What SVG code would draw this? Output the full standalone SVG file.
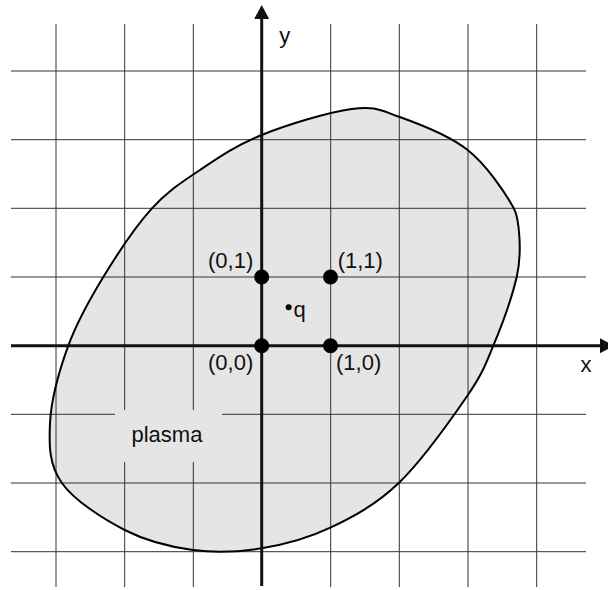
<svg xmlns="http://www.w3.org/2000/svg" width="608" height="590" viewBox="0 0 608 590">
<style>
.grid{stroke:#333;stroke-width:1;fill:none}
.axis{stroke:#111;stroke-width:3;fill:none}
.lbl{font-family:"Liberation Sans",Arial,sans-serif;font-size:22px;fill:#111}
.pt{fill:#000}
</style>
<defs>
<marker id="arr" markerWidth="14" markerHeight="15" refX="0" refY="7.5" orient="auto" markerUnits="userSpaceOnUse">
<path d="M0,0 L14,7.5 L0,15 Z" fill="#111"/>
</marker>
<path id="plasmaShape" d="M351.7,109 C374.58,105.95 379.67,109.87 399,116.7 C418.33,123.53 448.53,134.67 467.7,150 C486.87,165.33 505.28,192.58 514,208.7 C519,218 522.5,252 516.7,277 C512.5,295 501.63,325.75 493.3,345.7 C484.97,365.65 482.42,373.87 466.7,396.7 C450.98,419.53 421.73,460.87 399,482.7 C376.27,504.53 353.18,516.77 330.3,527.7 C307.42,538.63 284.58,544.58 261.7,548.3 C238.82,552.02 215.83,553.05 193,550 C170.17,546.95 146.58,541.22 124.7,530 C102.82,518.78 74.15,500.48 61.7,482.7 C49.25,464.92 48.9,446.13 50,423.3 C51.1,400.47 59.42,370.08 68.3,345.7 C77.18,321.32 89.4,299.83 103.3,277 C117.2,254.17 135.58,226.53 151.7,208.7 C167.82,190.87 181.67,182.28 200,170 C218.33,157.72 236.42,145.17 261.7,135 C286.98,124.83 328.82,112.05 351.7,109 Z"/>
</defs>
<rect width="608" height="590" fill="#fff"/>
<g id="plasma-fill">
<use href="#plasmaShape" fill="#e5e5e5" stroke="none"/>
</g>
<g id="grid">
<line class="grid" x1="56" y1="24" x2="56" y2="587"/>
<line class="grid" x1="124.7" y1="24" x2="124.7" y2="587"/>
<line class="grid" x1="193.3" y1="24" x2="193.3" y2="587"/>
<line class="grid" x1="330.7" y1="24" x2="330.7" y2="587"/>
<line class="grid" x1="399.3" y1="24" x2="399.3" y2="587"/>
<line class="grid" x1="468" y1="24" x2="468" y2="587"/>
<line class="grid" x1="536.7" y1="24" x2="536.7" y2="587"/>
<line class="grid" x1="11" y1="71" x2="586" y2="71"/>
<line class="grid" x1="11" y1="139.7" x2="586" y2="139.7"/>
<line class="grid" x1="11" y1="208.3" x2="586" y2="208.3"/>
<line class="grid" x1="11" y1="277" x2="586" y2="277"/>
<line class="grid" x1="11" y1="414.3" x2="586" y2="414.3"/>
<line class="grid" x1="11" y1="483" x2="586" y2="483"/>
<line class="grid" x1="11" y1="551.7" x2="586" y2="551.7"/>
</g>
<g id="plasma-outline">
<use href="#plasmaShape" fill="none" stroke="#000" stroke-width="2"/>
</g>
<g id="plasma-label">
<rect x="115" y="410" width="107" height="52" fill="#e5e5e5"/>
<text class="lbl" x="131.5" y="441.7">plasma</text>
</g>
<g id="connectors">
<line id="x-axis" class="axis" x1="11" y1="345.7" x2="600" y2="345.7" marker-end="url(#arr)"/>
<line id="y-axis" class="axis" x1="261.7" y1="586" x2="261.7" y2="19" marker-end="url(#arr)"/>
</g>
<g id="label-x"><text class="lbl" x="580.5" y="372">x</text></g>
<g id="label-y"><text class="lbl" x="279.3" y="43">y</text></g>
<g id="node-00">
<circle class="pt" cx="261.7" cy="345.7" r="7.5"/>
<text class="lbl" x="253.3" y="370" text-anchor="end">(0,0)</text>
</g>
<g id="node-10">
<circle class="pt" cx="330.5" cy="345.7" r="7.5"/>
<text class="lbl" x="336" y="370">(1,0)</text>
</g>
<g id="node-01">
<circle class="pt" cx="261.7" cy="277" r="7.5"/>
<text class="lbl" x="253.3" y="268" text-anchor="end">(0,1)</text>
</g>
<g id="node-11">
<circle class="pt" cx="330.5" cy="277" r="7.5"/>
<text class="lbl" x="337.7" y="268">(1,1)</text>
</g>
<g id="node-q">
<circle class="pt" cx="288.7" cy="307.3" r="3"/>
<text class="lbl" x="293.5" y="316.7">q</text>
</g>
</svg>
